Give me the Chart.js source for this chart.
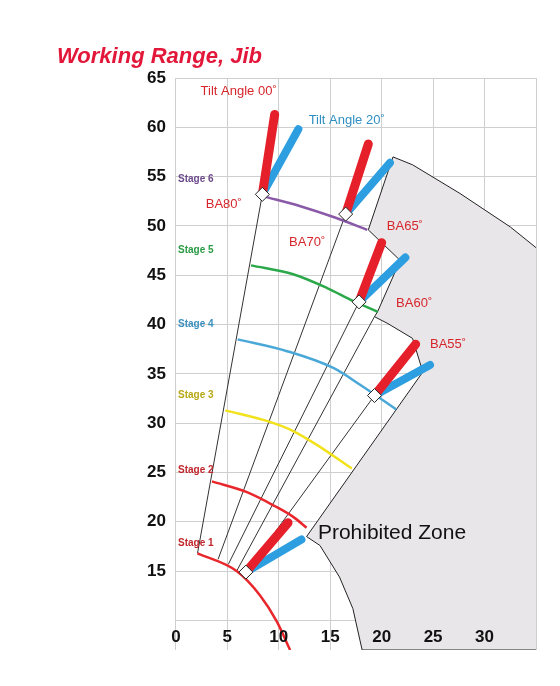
<!DOCTYPE html>
<html>
<head>
<meta charset="utf-8">
<script src="https://cdn.jsdelivr.net/npm/chart.js@4"></script>
<style>
body { margin: 0; background: #fff; }
#wrap { width: 560px; height: 686px; }
</style>
</head>
<body>
<div id="wrap"><canvas id="jib"></canvas></div>
<script>
// ticks
const xTicks = [0, 5, 10, 15, 20, 25, 30];
const yTicks = [15, 20, 25, 30, 35, 40, 45, 50, 55, 60, 65];

// stage arcs [x, y]
const stage1 = [[2.1, 16.8], [5.9, 15.0], [8.2, 12.5], [9.8, 9.9], [11.1, 7.0]];
const stage2 = [[3.5, 24.1], [6.9, 23.0], [9.6, 21.6], [11.4, 20.5], [12.7, 19.4]];
const stage3 = [[4.8, 31.3], [9.2, 30.1], [11.4, 29.2], [13.7, 27.8], [17.1, 25.4]];
const stage4 = [[6.0, 38.5], [10.8, 37.3], [15.3, 35.6], [17.9, 33.9], [21.4, 31.4]];
const stage5 = [[7.3, 46.0], [11.4, 45.1], [14.7, 43.7], [17.2, 42.4], [19.6, 41.3]];
const stage6 = [[8.5, 53.0], [12.1, 52.0], [15.6, 50.8], [18.6, 49.6]];
const stageColors = ['#e8262b', '#e8262b', '#f2e21b', '#4aa8d8', '#2aa84a', '#8a5aa8'];

// boom lines: base -> jib head
const booms = [
  [[2.1, 16.8], [8.4, 53.2]],
  [[4.1, 16.2], [16.5, 51.2]],
  [[5.1, 15.7], [17.8, 42.3]],
  [[5.9, 15.0], [19.3, 40.8]],
  [[6.6, 14.6], [19.3, 32.8]]
];

// prohibited zone outline
const zone = [[35, 47.8], [32.5, 49.9], [27.6, 53.3], [23.0, 56.2], [21.1, 57.0],
  [18.7, 49.6], [19.9, 48.4], [21.8, 46.5], [19.6, 41.3], [19.3, 40.8], [20.6, 40.1],
  [23.0, 38.6], [24.0, 35.2], [12.7, 18.5], [14.0, 17.6], [15.9, 14.4], [17.2, 11.2],
  [18.1, 7.0], [35, 7.0]];

// jib heads: basket, red top (tilt 0), blue top (tilt 20)
const heads = [
  { base: [8.4, 53.2], red: [9.6, 61.3], blue: [11.9, 59.8] },
  { base: [16.5, 51.2], red: [18.7, 58.3], blue: [20.8, 56.4] },
  { base: [17.8, 42.3], red: [20.0, 48.3], blue: [22.3, 46.8] },
  { base: [19.3, 32.8], red: [23.3, 38.0], blue: [24.7, 35.9] },
  { base: [6.8, 14.9], red: [10.9, 19.9], blue: [12.2, 18.2] }
];

// text labels [text, x, y, colour, size]
const labels = [
  ['Tilt Angle 00˚', 2.4, 63.6, '#d6262b', 13],
  ['Tilt Angle 20˚', 12.9, 60.7, '#2f8fc4', 13],
  ['Stage 6', 0.2, 54.7, '#6d4b8c', 10],
  ['Stage 5', 0.2, 47.5, '#2a9a44', 10],
  ['Stage 4', 0.2, 40.0, '#3a8fbd', 10],
  ['Stage 3', 0.2, 32.8, '#b8a814', 10],
  ['Stage 2', 0.2, 25.2, '#c0272d', 10],
  ['Stage 1', 0.2, 17.8, '#c0272d', 10],
  ['BA80˚', 2.9, 52.2, '#d6262b', 13],
  ['BA70˚', 11.0, 48.3, '#d6262b', 13],
  ['BA65˚', 20.5, 49.9, '#d6262b', 13],
  ['BA60˚', 21.4, 42.1, '#d6262b', 13],
  ['BA55˚', 24.7, 38.0, '#d6262b', 13],
  ['Prohibited Zone', 13.8, 18.8, '#111', 21]
];

function pts(arr) { return arr.map(p => ({ x: p[0], y: p[1] })); }

let datasets = [];
datasets.push({ data: pts(zone), showLine: true, fill: 'shape', backgroundColor: '#e8e6e8',
  borderColor: '#222', borderWidth: 1, pointRadius: 0, order: 20 });
[stage1, stage2, stage3, stage4, stage5, stage6].forEach(function (s, i) {
  datasets.push({ data: pts(s), showLine: true, borderColor: stageColors[i], borderWidth: 2.5,
    cubicInterpolationMode: 'monotone', pointRadius: 0, order: 5 });
});
booms.forEach(function (b) {
  datasets.push({ data: pts(b), showLine: true, borderColor: '#333', borderWidth: 1,
    pointRadius: 0, order: 6 });
});
heads.forEach(function (h) {
  datasets.push({ data: pts([h.base, h.blue]), showLine: true, borderColor: '#2d9ee0', borderWidth: 8,
    borderCapStyle: 'round', pointRadius: 0, order: 3 });
  datasets.push({ data: pts([h.base, h.red]), showLine: true, borderColor: '#e5202a', borderWidth: 9,
    borderCapStyle: 'round', pointRadius: 0, order: 2 });
  datasets.push({ data: pts([h.base]), pointStyle: 'rectRot', pointRadius: 7, backgroundColor: '#fff',
    borderColor: '#222', borderWidth: 1, order: 1 });
});

const textPlugin = {
  id: 'texts',
  afterDatasetsDraw(chart) {
    const c = chart.ctx, xs = chart.scales.x, ys = chart.scales.y;
    c.save();
    c.fillStyle = '#e3173a';
    c.font = 'italic bold 22px "Liberation Sans", Arial';
    c.textBaseline = 'middle';
    c.fillText('Working Range, Jib', 57, 57);
    labels.forEach(function (l) {
      c.fillStyle = l[3];
      c.font = (l[4] > 12 && l[4] < 20 ? '' : 'bold ') + l[4] + 'px "Liberation Sans", Arial';
      if (l[4] > 20) c.font = l[4] + 'px "Liberation Sans", Arial';
      c.fillText(l[0], xs.getPixelForValue(l[1]), ys.getPixelForValue(l[2]));
    });
    // x tick labels on top of the grey zone
    c.fillStyle = '#111';
    c.font = 'bold 17px "Liberation Sans", Arial';
    c.textAlign = 'center';
    xTicks.forEach(function (v) {
      c.fillText(String(v), xs.getPixelForValue(v), ys.getPixelForValue(8.3));
    });
    c.restore();
  }
};

new Chart(document.getElementById('jib'), {
  type: 'scatter',
  data: { datasets: datasets },
  options: {
    responsive: true,
    maintainAspectRatio: false,
    animation: false,
    layout: { padding: { top: 78, left: 137, right: 24, bottom: 36 } },
    plugins: { legend: { display: false }, tooltip: { enabled: false } },
    scales: {
      x: {
        type: 'linear', min: 0, max: 35,
        afterBuildTicks: function (ax) { ax.ticks = xTicks.concat([35]).map(v => ({ value: v })); },
        grid: { color: '#cfcfcf', drawTicks: false },
        border: { display: false },
        ticks: { display: false }
      },
      y: {
        type: 'linear', min: 7, max: 65,
        afterBuildTicks: function (ax) { ax.ticks = [10].concat(yTicks).map(v => ({ value: v })); },
        grid: { color: '#cfcfcf', drawTicks: false },
        border: { display: false },
        ticks: { color: '#111', font: { size: 17, weight: 'bold' }, padding: 10,
          callback: function (v) { return v < 15 ? '' : v; } }
      }
    }
  },
  plugins: [textPlugin]
});
</script>
</body>
</html>
